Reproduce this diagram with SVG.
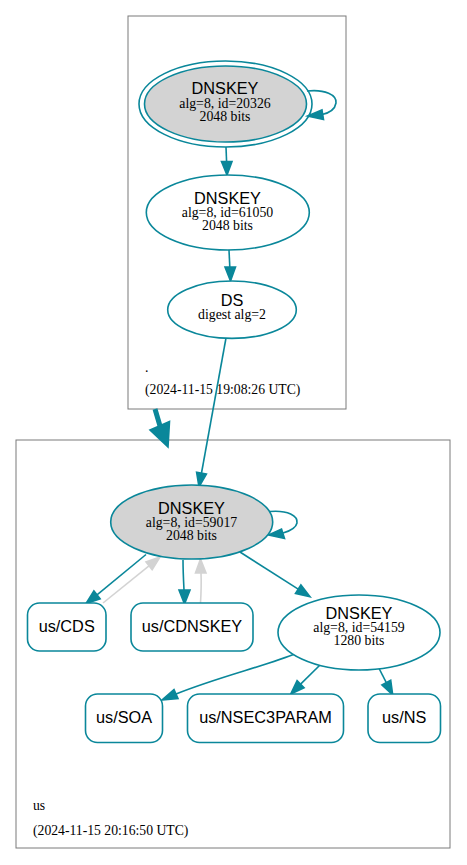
<svg xmlns="http://www.w3.org/2000/svg" width="467" height="865" viewBox="0 0 467 865">
<style>
.cl{fill:none;stroke:#7a7a7a;stroke-width:1}
.nd{stroke:#0a879a;stroke-width:1.6}
.e{fill:none;stroke:#0a879a;stroke-width:1.6}
.g{fill:none;stroke:#d3d3d3;stroke-width:1.6}
.ah{fill:#0a879a;stroke:#0a879a;stroke-width:1.6}
.ahg{fill:#d3d3d3;stroke:#d3d3d3;stroke-width:1.6}
.big{font-family:"Liberation Sans",Arial,sans-serif;font-size:16.3px;fill:#000;text-anchor:middle}
.sm{font-family:"Liberation Serif","Times New Roman",serif;font-size:13.8px;fill:#000;text-anchor:middle}
.lb{font-family:"Liberation Serif","Times New Roman",serif;font-size:13.7px;fill:#000}
</style>
<rect width="467" height="865" fill="#fff"/>
<g id="cluster_root">
<rect class="cl" x="128" y="16" width="218" height="393"/>
<text class="lb" x="145" y="372">.</text>
<text class="lb" x="145" y="394">(2024-11-15 19:08:26 UTC)</text>
</g>
<g id="cluster_us">
<rect class="cl" x="16" y="440" width="434" height="408"/>
<text class="lb" x="33" y="810">us</text>
<text class="lb" x="33" y="835">(2024-11-15 20:16:50 UTC)</text>
</g>
<g id="edges">
<path class="e" d="M307,91 C325,89 337,95 336,103 C335,109 329,113 322,114.5"/>
<polygon class="ah" points="322,110 323.5,119.5 307.5,116"/>
<path class="e" d="M226,147 L226.6,162"/>
<polygon class="ah" points="221.5,161.5 232,161.5 227,175"/>
<path class="e" d="M229,250 L229.8,267"/>
<polygon class="ah" points="225,267 235.5,267 230.5,281"/>
<path class="e" d="M226,338 L201.5,473"/>
<polygon class="ah" points="206.4,474.1 196.6,472.3 199,487"/>
<path fill="none" stroke="#0a879a" stroke-width="5" d="M155,409 L160,426"/>
<polygon class="ah" points="150,430 169.5,421.5 168,447"/>
<path class="e" d="M270,511.5 C288,510 298,516 297,523 C296,528 290,531 283,533"/>
<polygon class="ah" points="281.5,529 284.5,538.5 268.5,535"/>
<path class="e" d="M146,554.5 L97,594.9"/>
<polygon class="ah" points="100.1,598.8 93.9,591 86,603.5"/>
<path class="g" d="M103,603 L149,565.8"/>
<polygon class="ahg" points="152.2,569.7 146,561.9 160,557"/>
<path class="e" d="M183,560 C183,570 183.5,580 184,590"/>
<polygon class="ah" points="179,590 190,590 184.5,604"/>
<path class="g" d="M200.5,603 C201,595 201.5,585 201,573"/>
<polygon class="ahg" points="195.5,573 206,573 200.5,559"/>
<path class="e" d="M240,552 L298.2,589.2"/>
<polygon class="ah" points="295.5,593.4 300.9,585 310,596.7"/>
<path class="e" d="M297,653 C266,666 221,676 176,694"/>
<polygon class="ah" points="174,689.5 178,698.5 162,700"/>
<path class="e" d="M323.3,661.7 L300.6,684.1"/>
<polygon class="ah" points="304.1,687.7 297.1,680.6 290.7,694"/>
<path class="e" d="M377.3,665 L386.3,682.6"/>
<polygon class="ah" points="381.9,684.9 390.7,680.3 392.7,695"/>
</g>
<g id="dnskey_20326">
<ellipse class="nd" cx="225.5" cy="104" rx="86.5" ry="43" fill="none"/>
<ellipse class="nd" cx="225.5" cy="104" rx="81" ry="38" fill="#d3d3d3"/>
<text class="big" x="225" y="94">DNSKEY</text>
<text class="sm" x="225" y="108">alg=8, id=20326</text>
<text class="sm" x="225" y="120.5">2048 bits</text>
</g>
<g id="dnskey_61050">
<ellipse class="nd" cx="227.8" cy="212.5" rx="81.5" ry="37.5" fill="#fff"/>
<text class="big" x="227.5" y="204">DNSKEY</text>
<text class="sm" x="227.5" y="217">alg=8, id=61050</text>
<text class="sm" x="227.5" y="230">2048 bits</text>
</g>
<g id="ds">
<ellipse class="nd" cx="232" cy="309.7" rx="64.3" ry="28.7" fill="#fff"/>
<text class="big" x="232" y="305.5">DS</text>
<text class="sm" x="232" y="318.5">digest alg=2</text>
</g>
<g id="dnskey_59017">
<ellipse class="nd" cx="191.7" cy="522" rx="81" ry="37" fill="#d3d3d3"/>
<text class="big" x="191.5" y="513.5">DNSKEY</text>
<text class="sm" x="191.5" y="527">alg=8, id=59017</text>
<text class="sm" x="191.5" y="539.5">2048 bits</text>
</g>
<g id="us_cds">
<rect class="nd" x="27.5" y="603" width="78.5" height="48" rx="12" fill="#fff"/>
<text class="big" x="66.7" y="632">us/CDS</text>
</g>
<g id="us_cdnskey">
<rect class="nd" x="131" y="603" width="122" height="48" rx="12" fill="#fff"/>
<text class="big" x="192" y="632">us/CDNSKEY</text>
</g>
<g id="dnskey_54159">
<ellipse class="nd" cx="359" cy="632.5" rx="81" ry="37.5" fill="#fff"/>
<text class="big" x="359" y="618.5">DNSKEY</text>
<text class="sm" x="359" y="632">alg=8, id=54159</text>
<text class="sm" x="359" y="644.5">1280 bits</text>
</g>
<g id="us_soa">
<rect class="nd" x="85.5" y="694" width="77" height="48.5" rx="12" fill="#fff"/>
<text class="big" x="124" y="723">us/SOA</text>
</g>
<g id="us_nsec3param">
<rect class="nd" x="187.5" y="694" width="156" height="48.5" rx="12" fill="#fff"/>
<text class="big" x="265.5" y="723">us/NSEC3PARAM</text>
</g>
<g id="us_ns">
<rect class="nd" x="368" y="694" width="72.5" height="48.5" rx="12" fill="#fff"/>
<text class="big" x="404.2" y="723">us/NS</text>
</g>
</svg>
